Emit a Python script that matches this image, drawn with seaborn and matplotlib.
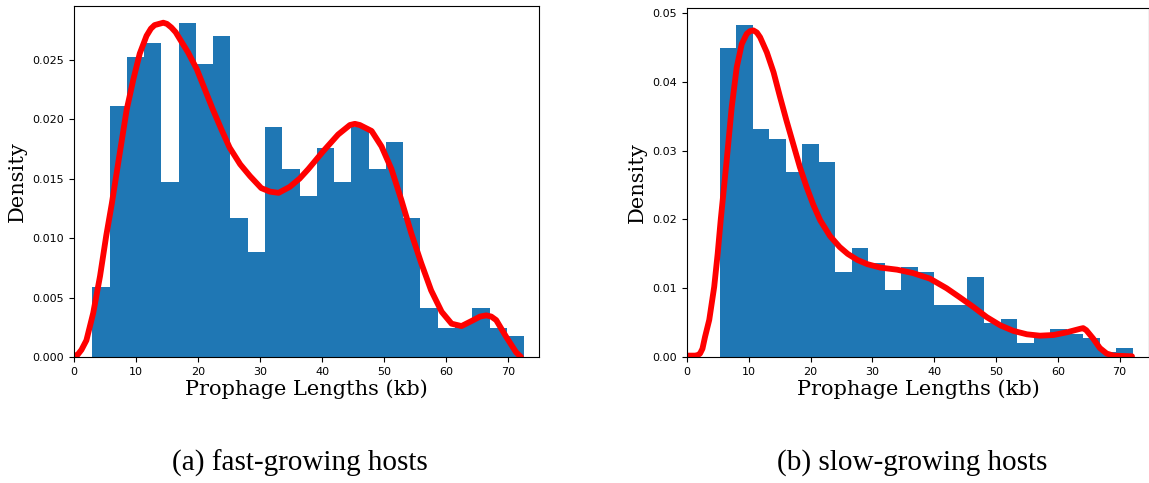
import numpy as np
import pandas as pd
import matplotlib
matplotlib.use("Agg")
import matplotlib.pyplot as plt
import seaborn as sns

# ---------------- data ----------------
# (a) fast-growing hosts: histogram densities of 25 equal bins
fast_bin_range = (2.95, 72.6)
fast_density = [0.0059, 0.0211, 0.0252, 0.0264, 0.0147, 0.0281, 0.0246, 0.0270,
                0.0117, 0.0088, 0.0193, 0.0158, 0.0135, 0.0176, 0.0147, 0.0193,
                0.0158, 0.0181, 0.0117, 0.0041, 0.0024, 0.0029, 0.0041, 0.0024,
                0.0018]
fast_kde_x = [0.0, 0.6, 1.2, 2.0, 3.1, 4.2, 5.2, 6.1, 7.4, 8.5, 9.6, 10.6, 11.7,
              12.4, 13.0, 13.7, 14.4, 15.0, 15.7, 16.4, 17.1, 18.4, 19.8, 21.1,
              22.4, 23.8, 25.1, 26.8, 28.4, 30.2, 31.6, 33.0, 34.8, 36.4, 37.8,
              40.2, 42.6, 44.5, 45.3, 46.1, 48.0, 49.6, 51.2, 52.8, 54.4, 56.0,
              57.6, 59.3, 60.9, 62.5, 64.4, 65.5, 66.5, 67.3, 68.1, 69.7, 71.3,
              72.1]
fast_kde_y = [0.0001, 0.0002, 0.0006, 0.0014, 0.0037, 0.0068, 0.0102, 0.0129,
              0.0172, 0.0208, 0.0234, 0.0255, 0.0270, 0.0276, 0.0279, 0.0280,
              0.0281, 0.0280, 0.0277, 0.0273, 0.0267, 0.0256, 0.0242, 0.0225,
              0.0208, 0.0191, 0.0176, 0.0162, 0.0152, 0.0142, 0.0139, 0.0138,
              0.0143, 0.0150, 0.0158, 0.0173, 0.0187, 0.0195, 0.0196, 0.0195,
              0.0190, 0.0177, 0.0158, 0.0132, 0.0104, 0.0079, 0.0056, 0.0038,
              0.0028, 0.0026, 0.0031, 0.0034, 0.0035, 0.0034, 0.0031, 0.0017,
              0.0004, 0.0000]

# (b) slow-growing hosts
slow_bin_range = (5.3, 72.1)
slow_density = [0.0449, 0.0483, 0.0332, 0.0317, 0.0269, 0.0310, 0.0283, 0.0124,
                0.0159, 0.0137, 0.0097, 0.0131, 0.0124, 0.0076, 0.0076, 0.0117,
                0.0049, 0.0055, 0.0021, 0.0027, 0.0041, 0.0034, 0.0028, 0.0007,
                0.0013]
slow_kde_x = [0.0, 1.33, 1.8, 2.11, 2.5, 2.91, 3.6, 4.4, 4.96, 5.45, 6.42,
              7.23, 8.04, 8.85, 9.66, 10.2, 10.74, 11.3, 11.83, 12.92, 14.01,
              15.0, 16.09, 17.18, 18.27, 19.36, 20.45, 21.54, 23.13, 24.7, 26.0,
              27.6, 29.2, 31.3, 34.0, 36.6, 39.3, 42.0, 44.1, 46.3, 48.5, 50.7,
              52.8, 55.0, 57.1, 59.3, 61.5, 63.6, 64.1, 64.6, 65.7, 66.8, 67.9,
              69.0, 72.0]
slow_kde_y = [0.0002, 0.0002, 0.0003, 0.0005, 0.0012, 0.0029, 0.0054, 0.0102,
              0.0150, 0.0199, 0.0286, 0.0363, 0.0421, 0.0455, 0.0470, 0.0474,
              0.0475, 0.0472, 0.0465, 0.0443, 0.0414, 0.0380, 0.0344, 0.0310,
              0.0276, 0.0247, 0.0221, 0.0199, 0.0176, 0.0160, 0.0150, 0.0141,
              0.0135, 0.0130, 0.0127, 0.0122, 0.0114, 0.0100, 0.0087, 0.0073,
              0.0058, 0.0046, 0.0038, 0.0033, 0.0031, 0.0032, 0.0036, 0.0041,
              0.0042, 0.0039, 0.0027, 0.0013, 0.0005, 0.0002, 0.0001]

x_label = "Prophage Lengths (kb)"
y_label = "Density"
captions = ["(a) fast-growing hosts", "(b) slow-growing hosts"]

# ---------------- figure ----------------
W, H = 1149, 483
fig = plt.figure(figsize=(W / 100, H / 100), dpi=100)

bar_color = "#1f77b4"


def panel(rect, bin_range, dens, kx, ky, xmax, caption, cap_x):
    ax = fig.add_axes(rect)
    edges = np.linspace(bin_range[0], bin_range[1], len(dens) + 1)
    hist_df = pd.DataFrame({"length": (edges[:-1] + edges[1:]) / 2,
                            "density": dens})
    kde_df = pd.DataFrame({"length": kx, "density": ky})
    sns.histplot(data=hist_df, x="length", weights="density",
                 bins=edges.tolist(), stat="count", ax=ax,
                 color=bar_color, alpha=1.0, edgecolor=bar_color,
                 linewidth=0)
    sns.lineplot(data=kde_df, x="length", y="density", ax=ax,
                 color="#ff0000", linewidth=4.2, estimator=None,
                 solid_joinstyle="round", solid_capstyle="round")
    ax.set_xlim(0, xmax)
    ax.set_ylim(bottom=0)
    ax.set_xticks(range(0, 71, 10))
    ax.tick_params(labelsize=8)
    ax.set_xlabel(x_label, family="DejaVu Serif", fontsize=15, labelpad=2)
    ax.set_ylabel(y_label, family="DejaVu Serif", fontsize=15, labelpad=4)
    fig.text(cap_x, (H - 463) / H, caption, family="Liberation Serif",
             fontsize=21, ha="center", va="center")
    return ax


ax1 = panel([74 / W, 126 / H, 465 / W, 351 / H], fast_bin_range, fast_density,
            fast_kde_x, fast_kde_y, 75, captions[0], 300 / W)
ax2 = panel([687 / W, 126 / H, 462 / W, 348.7 / H], slow_bin_range, slow_density,
            slow_kde_x, slow_kde_y, 74.75, captions[1], 912 / W)

fig.savefig("out.png", dpi=100)
